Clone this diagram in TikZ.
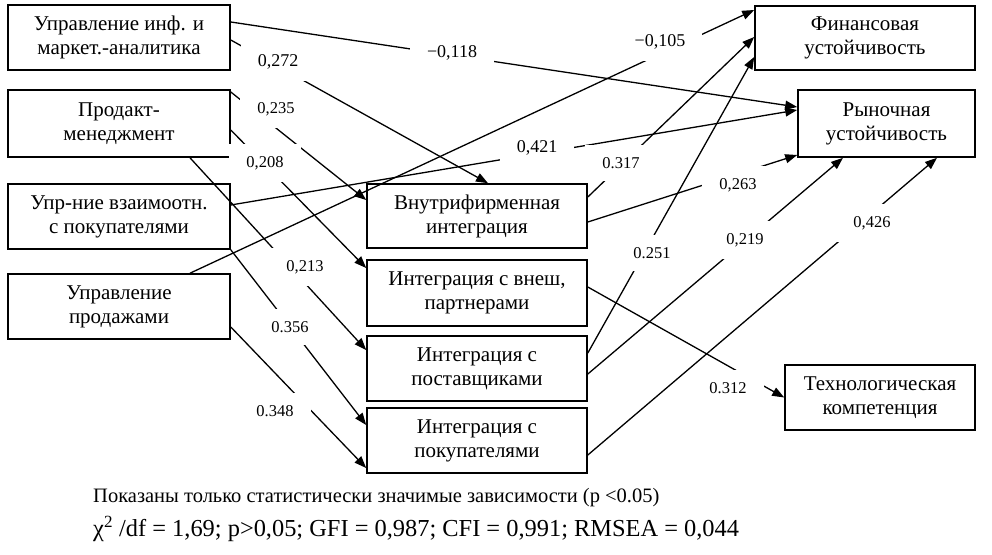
\documentclass[tikz,border=0pt]{standalone}
\usepackage{fontspec}
\setmainfont{Liberation Serif}
\usetikzlibrary{arrows.meta}
\begin{document}
\begin{tikzpicture}[x=1pt,y=-1pt,
  box/.style={draw, line width=1.6pt, inner sep=0pt, align=center, font=\fontsize{21}{24}\selectfont},
  conn/.style={line width=1.3pt, -{Triangle[length=12pt,width=9pt]}},
  coef/.style={fill=white, inner xsep=17pt, inner ysep=12pt, font=\fontsize{16.5}{18}\selectfont},
  coefbig/.style={coef, font=\fontsize{18}{20}\selectfont},
  note/.style={anchor=west, inner sep=0pt}]
\useasboundingbox (0,0) rectangle (992,554);
% left column
\node[box, minimum width=222pt, minimum height=65pt] (A) at (119,37.5) {Управление инф. и\\маркет.-аналитика};
\node[box, minimum width=222pt, minimum height=67pt] (B) at (119,123.5) {Продакт-\\менеджмент};
\node[box, minimum width=222pt, minimum height=65pt] (C) at (119,216.5) {Упр-ние взаимоотн.\\с покупателями};
\node[box, minimum width=222pt, minimum height=65pt] (D) at (119,306.5) {Управление\\продажами};
% middle column
\node[box, minimum width=220pt, minimum height=64pt] (E) at (477,216) {Внутрифирменная\\интеграция};
\node[box, minimum width=220pt, minimum height=66pt] (F) at (477,293) {Интеграция с внеш,\\партнерами};
\node[box, minimum width=220pt, minimum height=65pt] (G) at (477,368.5) {Интеграция с\\поставщиками};
\node[box, minimum width=220pt, minimum height=65pt] (H) at (477,440.5) {Интеграция с\\покупателями};
% right column
\node[box, minimum width=220pt, minimum height=64pt] (I) at (865,38) {Финансовая\\устойчивость};
\node[box, minimum width=177pt, minimum height=67pt] (J) at (886.5,123.5) {Рыночная\\устойчивость};
\node[box, minimum width=190pt, minimum height=65pt] (K) at (880,397.5) {Технологическая\\компетенция};
% connectors
\draw[conn] ([yshift=15.5pt]A.east) -- ([yshift=16.5pt]J.west);
\draw[conn] ([yshift=-2.5pt]A.east) -- ([xshift=11pt]E.north);
\draw[conn] ([yshift=31.5pt]B.east) -- ([yshift=16pt]E.west);
\draw[conn] ([yshift=-6.5pt]B.east) -- ([yshift=25pt]F.west);
\draw[conn] ([xshift=71pt]B.south) -- ([yshift=18.5pt]G.west);
\draw[conn] ([yshift=11.5pt]C.east) -- ([yshift=13.5pt]J.west);
\draw[conn] (C.south east) -- ([yshift=15.5pt]H.west);
\draw[conn] ([xshift=71pt]D.north) -- ([yshift=28pt]I.west);
\draw[conn] ([yshift=-20.5pt]D.east) -- ([yshift=-27.5pt]H.west);
\draw[conn] ([yshift=19pt]E.east) -- ([yshift=1pt]I.west);
\draw[conn] ([yshift=-6pt]E.east) -- ([yshift=-31.5pt]J.west);
\draw[conn] ([yshift=15.5pt]G.east) -- ([yshift=-19pt]I.west);
\draw[conn] ([yshift=-5.5pt]G.east) -- ([xshift=-43.5pt]J.south);
\draw[conn] ([yshift=-14.5pt]H.east) -- ([xshift=50.5pt]J.south);
\draw[conn] ([yshift=6pt]F.east) -- (K.west);
% coefficients
\node[coefbig] (c1) at (452,53) {−0,118};
\node[coefbig] (c2) at (278,62) {0,272};
\node[coef] (c3) at (276,109) {0,235};
\node[coef] (c4) at (265,163) {0,208};
\node[coef] (c5) at (305,267) {0,213};
\node[coef] (c6) at (290,327) {0.356};
\node[coef] (c7) at (275,411) {0.348};
\node[coefbig] (c8) at (660,42) {−0,105};
\node[coefbig] (c9) at (537,148) {0,421};
\node[coef] (c10) at (621,163) {0.317};
\node[coef] (c11) at (738,185) {0,263};
\node[coef] (c12) at (652,253) {0.251};
\node[coef] (c13) at (745,240) {0,219};
\node[coef] (c14) at (872,223) {0,426};
\node[coef] (c15) at (728,388) {0.312};
% notes
\node[note, font=\fontsize{20.5}{22}\selectfont] (n1) at (93,498) {Показаны только статистически значимые зависимости (p <0.05)};
\node[note, font=\fontsize{24.4}{26}\selectfont] (n2) at (93,529) {χ\textsuperscript{2} /df = 1,69; p>0,05; GFI = 0,987; CFI = 0,991; RMSEA = 0,044};
\end{tikzpicture}
\end{document}
